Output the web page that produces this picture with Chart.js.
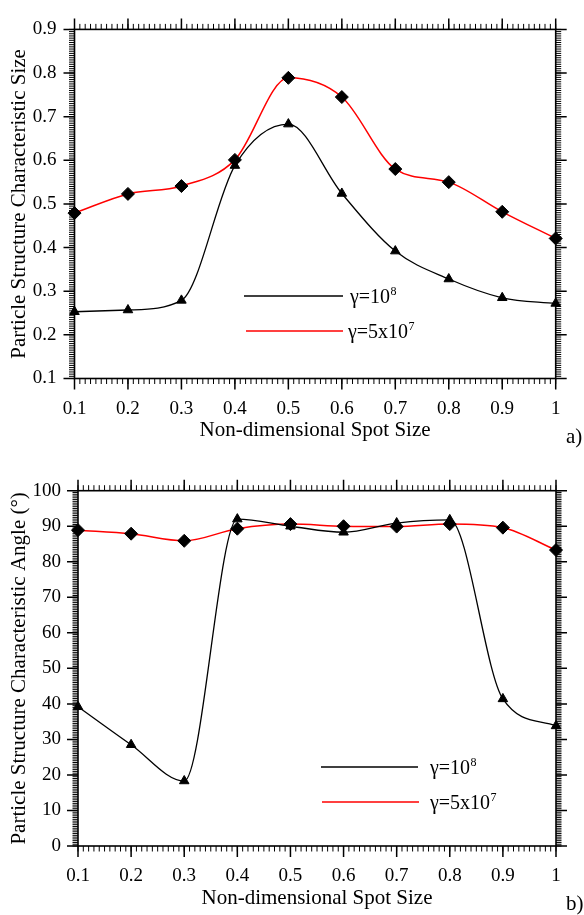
<!DOCTYPE html>
<html>
<head>
<meta charset="utf-8">
<script src="https://cdn.jsdelivr.net/npm/chart.js@4.4.1/dist/chart.umd.min.js"></script>
<style>
  html, body { margin: 0; padding: 0; background: #fff; }
  #wrap { position: relative; width: 584px; height: 915px; overflow: hidden; }
  canvas { position: absolute; left: 0; }
  #sizeChart { top: 0; }
  #angleChart { top: 458px; }
</style>
</head>
<body>
<div id="wrap">
  <canvas id="sizeChart" width="584" height="458"></canvas>
  <canvas id="angleChart" width="584" height="457"></canvas>
</div>
<script>
// Non-dimensional spot size, shared by both panels
const spotSize = [0.1, 0.2, 0.3, 0.4, 0.5, 0.6, 0.7, 0.8, 0.9, 1.0];

// Panel a) particle structure characteristic size
const sizeGamma1e8 = [0.253, 0.257, 0.279, 0.588, 0.683, 0.524, 0.392, 0.328, 0.285, 0.272];
const sizeGamma5e7 = [0.479, 0.523, 0.541, 0.601, 0.789, 0.745, 0.580, 0.550, 0.482, 0.421];

// Panel b) particle structure characteristic angle (degrees)
const angleGamma1e8 = [39.2, 28.5, 18.3, 92.0, 90.0, 88.3, 90.9, 91.8, 41.4, 33.8];
const angleGamma5e7 = [88.9, 87.9, 85.9, 89.3, 90.6, 90.0, 89.9, 90.6, 89.6, 83.3];

// Axis tick values
const spotTicks = [0.1, 0.2, 0.3, 0.4, 0.5, 0.6, 0.7, 0.8, 0.9, 1];
const sizeTicks = [0.1, 0.2, 0.3, 0.4, 0.5, 0.6, 0.7, 0.8, 0.9];
const angleTicks = [0, 10, 20, 30, 40, 50, 60, 70, 80, 90, 100];

const seriesLabels = ['γ=10⁸', 'γ=5x10⁷'];
const panelTags = ['a)', 'b)'];

const SERIF = "'Liberation Serif', 'Times New Roman', serif";
Chart.defaults.font.family = SERIF;
Chart.defaults.color = '#000';

const toPoints = (xs, ys) => xs.map((x, i) => ({ x: x, y: ys[i] }));

// Boxed frame with outward major/minor ticks on all four sides
const frameTicks = {
  id: 'frameTicks',
  beforeDatasetsDraw(chart, args, opts) {
    const { ctx, chartArea: a, scales } = chart;
    const xs = scales.x, ys = scales.y;
    ctx.save();
    ctx.strokeStyle = '#000';
    const pass = (scale, step, len, lw, horizontal) => {
      const n = Math.round((scale.max - scale.min) / step);
      ctx.beginPath();
      ctx.lineWidth = lw;
      for (let i = 0; i <= n; i++) {
        const v = scale.min + i * step;
        const p = scale.getPixelForValue(v);
        if (horizontal) {
          ctx.moveTo(p, a.bottom); ctx.lineTo(p, a.bottom + len);
          ctx.moveTo(p, a.top); ctx.lineTo(p, a.top - len);
        } else {
          ctx.moveTo(a.left, p); ctx.lineTo(a.left - len, p);
          ctx.moveTo(a.right, p); ctx.lineTo(a.right + len, p);
        }
      }
      ctx.stroke();
    };
    pass(xs, opts.minorX, 5.5, 1, true);
    pass(ys, opts.minorY, 5.5, 1, false);
    pass(xs, opts.majorX, 11, 1.5, true);
    pass(ys, opts.majorY, 11, 1.5, false);
    ctx.lineWidth = 1.6;
    ctx.strokeRect(a.left, a.top, a.right - a.left, a.bottom - a.top);
    ctx.restore();
  }
};

// In-plot legend: line sample followed by the label with a raised exponent
const supMap = { '⁰': '0', '¹': '1', '²': '2', '³': '3', '⁴': '4', '⁵': '5', '⁶': '6', '⁷': '7', '⁸': '8', '⁹': '9' };
const plotLegend = {
  id: 'plotLegend',
  afterDatasetsDraw(chart, args, opts) {
    const { ctx } = chart;
    ctx.save();
    chart.data.datasets.forEach((ds, i) => {
      const y = opts.rows[i];
      ctx.beginPath();
      ctx.strokeStyle = ds.borderColor;
      ctx.lineWidth = 1.6;
      ctx.moveTo(opts.x0[i], y);
      ctx.lineTo(opts.x1[i], y);
      ctx.stroke();
      let base = '', sup = '';
      for (const ch of ds.label) {
        if (supMap[ch]) sup += supMap[ch]; else base += ch;
      }
      ctx.fillStyle = '#000';
      ctx.textBaseline = 'middle';
      ctx.textAlign = 'left';
      ctx.font = opts.size + 'px ' + SERIF;
      const tx = opts.textX[i];
      ctx.fillText(base, tx, y + 2);
      const w = ctx.measureText(base).width;
      ctx.font = Math.round(opts.size * 0.62) + 'px ' + SERIF;
      ctx.fillText(sup, tx + w + 0.5, y - 4);
    });
    ctx.restore();
  }
};

// Panel tag in the lower right corner
const panelTag = {
  id: 'panelTag',
  afterDraw(chart, args, opts) {
    const { ctx } = chart;
    ctx.save();
    ctx.fillStyle = '#000';
    ctx.font = opts.size + 'px ' + SERIF;
    ctx.textAlign = 'left';
    ctx.textBaseline = 'middle';
    ctx.fillText(opts.text, opts.x, opts.y);
    ctx.restore();
  }
};

function makeDatasets(blackVals, redVals) {
  const common = {
    borderWidth: 1.3,
    cubicInterpolationMode: 'monotone',
    pointBackgroundColor: '#000',
    pointBorderColor: '#000',
    pointBorderWidth: 1,
    clip: false,
    fill: false
  };
  return [
    Object.assign({}, common, {
      label: seriesLabels[0],
      data: toPoints(spotSize, blackVals),
      borderColor: '#000',
      pointStyle: 'triangle',
      pointRadius: 5.5
    }),
    Object.assign({}, common, {
      label: seriesLabels[1],
      data: toPoints(spotSize, redVals),
      borderColor: '#ff0000',
      borderWidth: 1.5,
      pointStyle: 'rectRot',
      pointRadius: 6.5
    })
  ];
}

function makeChart(id, cfg) {
  return new Chart(document.getElementById(id), {
    type: 'line',
    data: { datasets: makeDatasets(cfg.black, cfg.red) },
    plugins: [frameTicks, plotLegend, panelTag],
    options: {
      responsive: false,
      animation: false,
      events: [],
      layout: { padding: cfg.padding },
      plugins: {
        legend: { display: false },
        tooltip: { enabled: false },
        frameTicks: cfg.frame,
        plotLegend: cfg.legend,
        panelTag: cfg.tag
      },
      scales: {
        x: {
          type: 'linear',
          min: 0.1,
          max: 1,
          afterBuildTicks: s => { s.ticks = spotTicks.map(v => ({ value: v })); },
          afterFit: s => { s.height = cfg.xHeight; },
          ticks: {
            padding: 19,
            font: { size: 19 },
            color: '#000',
            callback: v => String(Math.round(v * 10) / 10)
          },
          grid: { display: false, drawTicks: false },
          border: { display: false },
          title: {
            display: true,
            text: 'Non-dimensional Spot Size',
            font: { size: 21 },
            color: '#000',
            padding: { top: 0, bottom: cfg.xTitlePad }
          }
        },
        y: {
          type: 'linear',
          min: cfg.yTicks[0],
          max: cfg.yTicks[cfg.yTicks.length - 1],
          afterBuildTicks: s => { s.ticks = cfg.yTicks.map(v => ({ value: v })); },
          afterFit: s => { s.width = cfg.yWidth; },
          ticks: {
            padding: cfg.yTickPad,
            font: { size: 19 },
            color: '#000',
            callback: cfg.yFormat
          },
          grid: { display: false, drawTicks: false },
          border: { display: false },
          title: {
            display: true,
            text: cfg.yTitle,
            font: { size: 21 },
            color: '#000',
            padding: { top: 7, bottom: 0 }
          }
        }
      }
    }
  });
}

makeChart('sizeChart', {
  black: sizeGamma1e8,
  red: sizeGamma5e7,
  yTicks: sizeTicks,
  yFormat: v => (Math.round(v * 10) / 10).toFixed(1),
  yTitle: 'Particle Structure Characteristic Size',
  padding: { left: 0, right: 28.3, top: 19.5, bottom: 0 },
  yWidth: 74.5,
  yTickPad: 18,
  xHeight: 79.5,
  xTitlePad: 15.4,
  frame: { majorX: 0.1, minorX: 0.01, majorY: 0.1, minorY: 0.005 },
  legend: { x0: [244, 246], x1: [343, 343], textX: [350, 348], rows: [296, 331], size: 20 },
  tag: { text: panelTags[0], x: 566, y: 437, size: 21 }
});

makeChart('angleChart', {
  black: angleGamma1e8,
  red: angleGamma5e7,
  yTicks: angleTicks,
  yFormat: v => String(Math.round(v)),
  yTitle: 'Particle Structure Characteristic Angle (°)',
  padding: { left: 0, right: 28, top: 32.7, bottom: 0 },
  yWidth: 78,
  yTickPad: 17,
  xHeight: 69,
  xTitlePad: 4.4,
  frame: { majorX: 0.1, minorX: 0.01, majorY: 10, minorY: 0.5 },
  legend: { x0: [321, 322], x1: [418, 419], textX: [430, 430], rows: [309, 344], size: 20 },
  tag: { text: panelTags[1], x: 566, y: 446, size: 21 }
});
</script>
</body>
</html>
